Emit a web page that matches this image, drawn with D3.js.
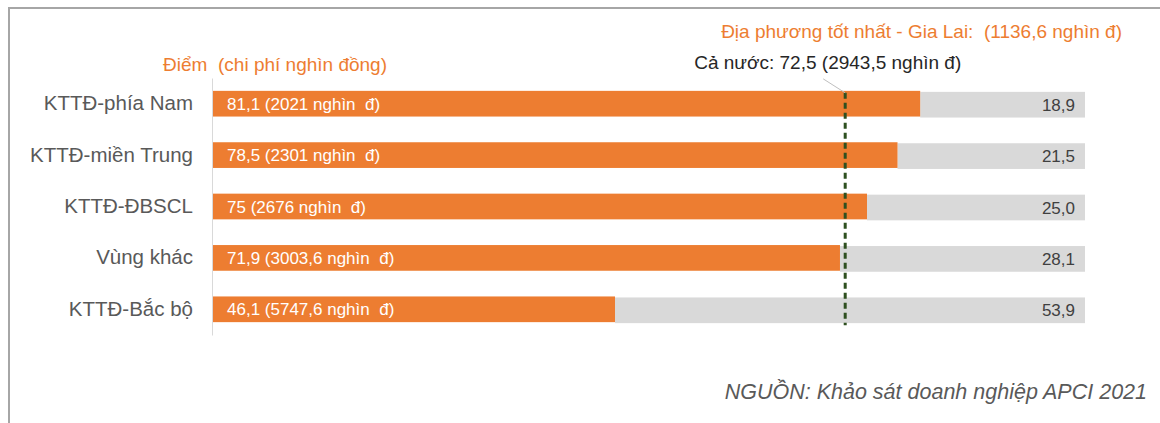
<!DOCTYPE html>
<html>
<head>
<meta charset="utf-8">
<script src="https://cdn.jsdelivr.net/npm/d3@7"></script>
<style>
  body { margin: 0; background: #fff; }
  text { font-family: "Liberation Sans", Arial, sans-serif; }
</style>
</head>
<body>
<div id="container"></div>
<script>
/* CONSTANTS AND GLOBALS */
const width = 1160,
  height = 423,
  margin = { top: 78, bottom: 88, left: 213, right: 75 };

/* DATA */
const regions = ["KTTĐ-phía Nam", "KTTĐ-miền Trung", "KTTĐ-ĐBSCL", "Vùng khác", "KTTĐ-Bắc bộ"];
const scores = [81.1, 78.5, 75, 71.9, 46.1];
const costs = ["2021", "2301", "2676", "3003,6", "5747,6"];
const remainders = [18.9, 21.5, 25.0, 28.1, 53.9];
const nationalScore = 72.5;
const nationalCost = "2943,5";
const bestProvince = "Gia Lai";
const bestCost = "1136,6";

const data = regions.map((r, i) => ({
  region: r,
  score: scores[i],
  cost: costs[i],
  rest: remainders[i]
}));

const comma = v => String(v).replace(".", ",");

// SCALES
const xScale = d3.scaleLinear()
  .domain([0, 100])
  .range([margin.left, margin.left + 872]);

const yScale = d3.scaleBand()
  .domain(regions)
  .range([margin.top, height - margin.bottom])
  .paddingInner(0.5)
  .paddingOuter(0.25);

// CREATE SVG ELEMENT
const svg = d3.select("#container")
  .append("svg")
  .attr("width", width)
  .attr("height", height);

// frame
svg.append("path")
  .attr("d", `M9,${height} V8 H${width}`)
  .attr("fill", "none")
  .attr("stroke", "#a6a6a6")
  .attr("stroke-width", 2);

// BARS
const rows = svg.selectAll("g.row")
  .data(data)
  .join("g")
  .attr("class", "row");

rows.append("rect")
  .attr("x", d => xScale(d.score))
  .attr("y", d => yScale(d.region) + 1)
  .attr("width", d => xScale(d.score + d.rest) - xScale(d.score))
  .attr("height", yScale.bandwidth())
  .attr("fill", "#d9d9d9");

rows.append("rect")
  .attr("x", xScale(0))
  .attr("y", d => yScale(d.region))
  .attr("width", d => xScale(d.score) - xScale(0))
  .attr("height", yScale.bandwidth())
  .attr("fill", "#ed7d31");

rows.append("text")
  .attr("x", xScale(0) + 14)
  .attr("y", d => yScale(d.region) + yScale.bandwidth() / 2)
  .attr("dy", "0.36em")
  .attr("fill", "#fff")
  .style("font-size", "17px")
  .style("white-space", "pre")
  .text(d => `${comma(d.score)} (${d.cost} nghìn  đ)`);

rows.append("text")
  .attr("x", xScale(100) - 10)
  .attr("y", d => yScale(d.region) + yScale.bandwidth() / 2 + 1)
  .attr("dy", "0.36em")
  .attr("text-anchor", "end")
  .attr("fill", "#404040")
  .style("font-size", "17px")
  .text(d => comma(d.rest.toFixed(1)));

// AXIS
const yAxis = d3.axisLeft(yScale).tickSize(0).tickPadding(19);
const gy = svg.append("g")
  .attr("transform", `translate(${margin.left - 1},0)`)
  .call(yAxis);
gy.select(".domain").attr("stroke", "#d9d9d9");
gy.selectAll("text")
  .attr("fill", "#595959")
  .style("font-size", "20.5px")
  .style("font-family", "'Liberation Sans', Arial, sans-serif");

// NATIONAL AVERAGE LINE
const nx = xScale(nationalScore);
svg.append("line")
  .attr("x1", nx).attr("x2", nx)
  .attr("y1", yScale(regions[0]) + 2)
  .attr("y2", yScale(regions[regions.length - 1]) + yScale.bandwidth() + 3)
  .attr("stroke", "#2f5020")
  .attr("stroke-width", 3)
  .attr("stroke-dasharray", "6,4");

svg.append("line")
  .attr("x1", nx - 22).attr("x2", nx)
  .attr("y1", yScale(regions[0]) - 12)
  .attr("y2", yScale(regions[0]) + 2)
  .attr("stroke", "#bfbfbf")
  .attr("stroke-width", 1);

svg.append("text")
  .attr("x", nx - 151)
  .attr("y", 69)
  .attr("fill", "#262626")
  .style("font-size", "19px")
  .text(`Cả nước: ${comma(nationalScore)} (${nationalCost} nghìn đ)`);

// LABELS
svg.append("text")
  .attr("x", 387)
  .attr("y", 71)
  .attr("text-anchor", "end")
  .attr("fill", "#ed7d31")
  .style("font-size", "19px")
  .style("white-space", "pre")
  .text("Điểm  (chi phí nghìn đồng)");

svg.append("text")
  .attr("x", 1122)
  .attr("y", 38)
  .attr("text-anchor", "end")
  .attr("fill", "#ed7d31")
  .style("font-size", "19px")
  .style("white-space", "pre")
  .text(`Địa phương tốt nhất - ${bestProvince}:  (${bestCost} nghìn đ)`);

svg.append("text")
  .attr("x", 1147)
  .attr("y", 399)
  .attr("text-anchor", "end")
  .attr("fill", "#595959")
  .style("font-size", "21.5px")
  .style("font-style", "italic")
  .text("NGUỒN: Khảo sát doanh nghiệp APCI 2021");
</script>
</body>
</html>
